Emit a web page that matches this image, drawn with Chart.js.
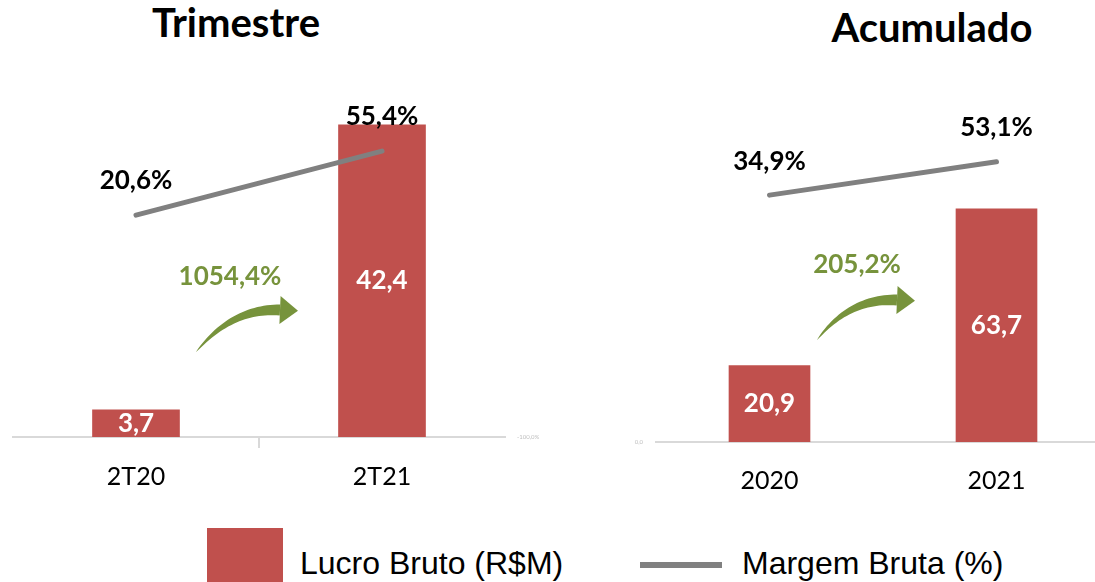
<!DOCTYPE html>
<html>
<head>
<meta charset="utf-8">
<script src="https://cdn.jsdelivr.net/npm/chart.js@4.4.0/dist/chart.umd.min.js"></script>
<style>
html, body { margin: 0; padding: 0; width: 1095px; height: 582px; overflow: hidden; background: #fff; }
body { position: relative; }
.abs { position: absolute; }
.title { font-family: Lato, sans-serif; font-weight: bold; font-size: 40px; line-height: 40px; color: #000; white-space: nowrap; transform: translateX(-50%); }
.leg { font-family: "Liberation Sans", Arial, sans-serif; font-size: 32px; line-height: 32px; color: #000; white-space: nowrap; }
</style>
</head>
<body>
<div class="abs title" style="left:236px; top:2px;">Trimestre</div>
<div class="abs title" style="left:932px; top:7px;">Acumulado</div>
<canvas id="chartTri" class="abs" width="540" height="500" style="left:0; top:0;"></canvas>
<canvas id="chartAcum" class="abs" width="490" height="500" style="left:620px; top:0;"></canvas>
<div class="abs" style="left:207px; top:528px; width:76px; height:60px; background:#C0504D;"></div>
<div class="abs leg" style="left:300px; top:547px;">Lucro Bruto (R$M)</div>
<div class="abs" style="left:640px; top:562px; width:82px; height:6px; background:#808080;"></div>
<div class="abs leg" style="left:742px; top:547px;">Margem Bruta (%)</div>
<script>
// Trimestre
var quarterLabels = ['2T20', '2T21'];
var quarterProfit = [3.7, 42.4];
var quarterMargin = [20.6, 55.4];
var quarterGrowth = '1054,4%';

// Acumulado
var yearLabels = ['2020', '2021'];
var yearProfit = [20.9, 63.7];
var yearMargin = [34.9, 53.1];
var yearGrowth = '205,2%';

var red = '#C0504D';
var gray = '#808080';
var green = '#77933C';
var axisGray = '#D9D9D9';

function fmt(v) {
    return v.toFixed(1).replace('.', ',');
}

// white labels inside bars, black labels above the line points
var valueLabels = {
    id: 'valueLabels',
    afterDatasetsDraw: function(chart) {
        var ctx = chart.ctx;
        ctx.save();
        ctx.font = 'bold 26px Lato';
        ctx.textAlign = 'center';
        ctx.textBaseline = 'middle';
        chart.data.datasets.forEach(function(ds, i) {
            var meta = chart.getDatasetMeta(i);
            meta.data.forEach(function(el, j) {
                if (ds.type === 'line') {
                    ctx.fillStyle = '#000';
                    ctx.fillText(fmt(ds.data[j]) + '%', el.x, el.y - 34);
                } else {
                    ctx.fillStyle = '#fff';
                    ctx.fillText(fmt(ds.data[j]), el.x, (el.y + el.base) / 2);
                }
            });
        });
        ctx.restore();
    }
};

function drawArrow(ctx, p0, pc, p1, maxW, headLen, headHalf) {
    var n = 30, a = [], b = [];
    for (var i = 0; i <= n; i++) {
        var t = i / n;
        var x = (1 - t) * (1 - t) * p0[0] + 2 * (1 - t) * t * pc[0] + t * t * p1[0];
        var y = (1 - t) * (1 - t) * p0[1] + 2 * (1 - t) * t * pc[1] + t * t * p1[1];
        var dx = 2 * (1 - t) * (pc[0] - p0[0]) + 2 * t * (p1[0] - pc[0]);
        var dy = 2 * (1 - t) * (pc[1] - p0[1]) + 2 * t * (p1[1] - pc[1]);
        var len = Math.sqrt(dx * dx + dy * dy);
        var w = maxW * Math.pow(t, 0.7) / 2;
        a.push([x - dy / len * w, y + dx / len * w]);
        b.push([x + dy / len * w, y - dx / len * w]);
    }
    ctx.beginPath();
    ctx.moveTo(a[0][0], a[0][1]);
    a.forEach(function(p) { ctx.lineTo(p[0], p[1]); });
    b.reverse().forEach(function(p) { ctx.lineTo(p[0], p[1]); });
    ctx.closePath();
    ctx.fill();

    var ux = p1[0] - pc[0], uy = p1[1] - pc[1];
    var l = Math.sqrt(ux * ux + uy * uy);
    ux /= l; uy /= l;
    ctx.beginPath();
    ctx.moveTo(p1[0] - uy * headHalf, p1[1] + ux * headHalf);
    ctx.lineTo(p1[0] + ux * headLen, p1[1] + uy * headLen);
    ctx.lineTo(p1[0] + uy * headHalf, p1[1] - ux * headHalf);
    ctx.closePath();
    ctx.fill();
}

// growth text + curved arrow between the two bars
function growthPlugin(g) {
    return {
        id: 'growth',
        afterDatasetsDraw: function(chart) {
            var xs = chart.scales.x;
            var mid = (xs.getPixelForValue(0) + xs.getPixelForValue(1)) / 2;
            var base = chart.chartArea.bottom;
            function pt(p) { return [mid + p[0], base + p[1]]; }
            var ctx = chart.ctx;
            ctx.save();
            ctx.fillStyle = green;
            ctx.font = 'bold 26px Lato';
            ctx.textAlign = 'center';
            ctx.textBaseline = 'middle';
            ctx.fillText(g.text, mid + g.label[0], base + g.label[1]);
            drawArrow(ctx, pt(g.tail), pt(g.ctrl), pt(g.end), 11, 18, 14);
            ctx.restore();
        }
    };
}

function makeChart(id, labels, profit, margin, o) {
    return new Chart(document.getElementById(id), {
        type: 'bar',
        data: {
            labels: labels,
            datasets: [{
                type: 'line',
                label: 'Margem Bruta (%)',
                data: margin,
                yAxisID: 'y1',
                borderColor: gray,
                borderWidth: 5,
                borderCapStyle: 'round',
                pointRadius: 0,
                order: 0
            }, {
                type: 'bar',
                label: 'Lucro Bruto (R$M)',
                data: profit,
                yAxisID: 'y',
                backgroundColor: red,
                barThickness: o.barWidth,
                order: 1
            }]
        },
        options: {
            responsive: false,
            animation: false,
            layout: { padding: o.padding },
            plugins: { legend: { display: false }, tooltip: { enabled: false } },
            scales: {
                x: {
                    afterFit: function(s) { s.height = o.xHeight; },
                    border: { color: axisGray, width: 2 },
                    grid: {
                        drawOnChartArea: false,
                        tickLength: 11,
                        lineWidth: 2,
                        color: function(c) { return (o.xTicks && c.index > 0) ? axisGray : 'rgba(0,0,0,0)'; }
                    },
                    ticks: { color: '#000', font: { family: 'Lato', size: 25 }, padding: o.xPad }
                },
                y: o.y,
                y1: o.y1
            }
        },
        plugins: [valueLabels, growthPlugin(o.growth)]
    });
}

var tinyTicks = { family: 'Lato', size: 6 };

makeChart('chartTri', quarterLabels, quarterProfit, quarterMargin, {
    barWidth: 87,
    padding: { top: 69, left: 13, right: 0 },
    xHeight: 63,
    xPad: 14,
    xTicks: true,
    y: { display: false, min: 0, max: 50 },
    y1: {
        position: 'right', min: -100, max: 100,
        afterFit: function(s) { s.width = 35; },
        grid: { display: false }, border: { display: false },
        ticks: { stepSize: 100, padding: 4, color: '#BFBFBF', font: tinyTicks,
            callback: function(v) { return v === -100 ? '-100,0%' : ''; } }
    },
    growth: { text: quarterGrowth, label: [-29, -160], tail: [-63, -85], ctrl: [-27, -129], end: [21, -127] }
});

makeChart('chartAcum', yearLabels, yearProfit, yearMargin, {
    barWidth: 81,
    padding: { top: 76, left: 0, right: 0 },
    xHeight: 58,
    xPad: 13,
    xTicks: false,
    y: {
        position: 'left', min: 0, max: 100,
        afterFit: function(s) { s.width = 36; },
        grid: { display: false }, border: { display: false },
        ticks: { stepSize: 50, padding: 5, color: '#BFBFBF', font: tinyTicks,
            callback: function(v) { return v === 0 ? '0,0' : ''; } }
    },
    y1: { display: false, position: 'right', min: -100, max: 100 },
    growth: { text: yearGrowth, label: [-26, -177], tail: [-66, -102], ctrl: [-34, -144], end: [14, -142] }
});
</script>
</body>
</html>
